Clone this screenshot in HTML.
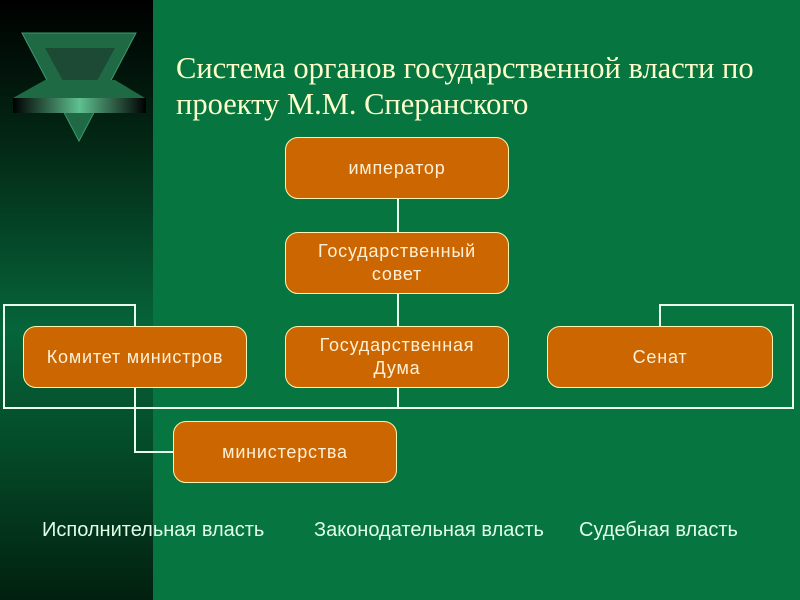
<!DOCTYPE html>
<html><head><meta charset="utf-8"><style>
body{margin:0;width:800px;height:600px;overflow:hidden;background:#077540;position:relative;font-family:"Liberation Sans",sans-serif}
#strip{position:absolute;left:0;top:0;width:153px;height:600px;background:linear-gradient(#000 0%,#032a16 25%,#06653a 55%,#044a28 75%,#02200f 100%)}
.t{position:absolute;left:176px;top:50px;font-family:"Liberation Serif",serif;font-size:30.5px;line-height:36px;color:#ffffcc;white-space:nowrap}
.b{position:absolute;width:224px;height:62px;background:#cc6600;border:1px solid #fff5b0;border-radius:13px;color:#fff0d8;font-size:18px;letter-spacing:0.8px;display:flex;align-items:center;justify-content:center;text-align:center;line-height:23px;box-sizing:border-box}
.l{position:absolute;top:519px;font-size:20px;color:#e0ffe8;white-space:nowrap}
</style></head><body>
<div id="strip"></div>
<svg style="position:absolute;left:0;top:0" width="153" height="150">
<polygon points="22,33 136,33 79,141" fill="#1f6a45" stroke="#3a9a70"/>
<polygon points="45,48 115,48 80,112" fill="#1c4a34"/>
<polygon points="13,98 45,80 115,80 145,98" fill="#1d6a45"/>
<defs><linearGradient id="g"><stop offset="0" stop-color="#000"/><stop offset="0.5" stop-color="#5fc090"/><stop offset="1" stop-color="#000"/></linearGradient></defs>
<rect x="13" y="98" width="133" height="15" fill="url(#g)"/>
</svg>
<div class="t">Система органов государственной власти по<br>проекту М.М. Сперанского</div>
<svg style="position:absolute;left:0;top:0" width="800" height="600" fill="none" stroke="#e8ffee" stroke-width="2">
<path d="M398,198V408 M135,326V305H4V408H793V305H660V326 M135,388V452H173"/>
</svg>
<div class="b" style="left:285px;top:137px">император</div>
<div class="b" style="left:285px;top:232px">Государственный<br>совет</div>
<div class="b" style="left:23px;top:326px">Комитет министров</div>
<div class="b" style="left:285px;top:326px">Государственная<br>Дума</div>
<div class="b" style="left:547px;top:326px;width:226px">Сенат</div>
<div class="b" style="left:173px;top:421px;width:224px">министерства</div>
<div class="l" style="left:42px">Исполнительная власть</div>
<div class="l" style="left:314px">Законодательная власть</div>
<div class="l" style="left:579px">Судебная власть</div>
</body></html>
